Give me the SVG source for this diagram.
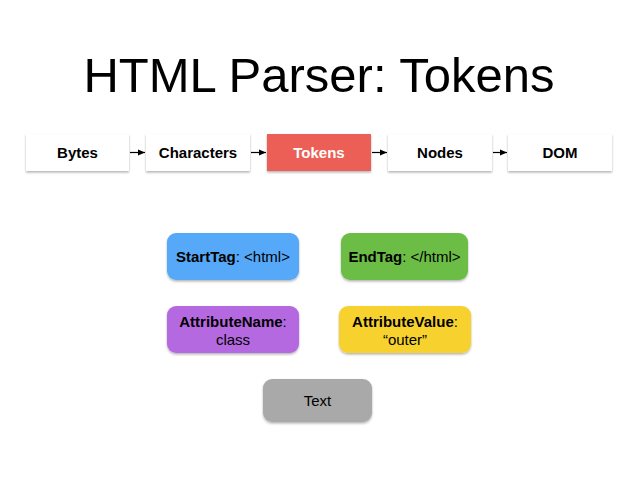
<svg xmlns="http://www.w3.org/2000/svg" width="638" height="479" viewBox="0 0 638 479">
<defs>
<filter id="sh" x="-10%" y="-10%" width="120%" height="140%">
<feDropShadow dx="0" dy="1.5" stdDeviation="1" flood-color="#000" flood-opacity="0.3"/>
</filter>
<marker id="ah" markerWidth="8" markerHeight="8" refX="7" refY="4" orient="auto" markerUnits="userSpaceOnUse">
<path d="M0,1 L7,4 L0,7 Z" fill="#000"/>
</marker>
<style>
text{font-family:"Liberation Sans",Arial,sans-serif}
.stage{fill:#fff;filter:url(#sh)}
.lbl{font-size:15px;font-weight:bold;text-anchor:middle;fill:#000}
.tok{filter:url(#sh)}
.tt{font-size:15px;text-anchor:middle;fill:#000}
.conn{stroke:#000;stroke-width:1.2;fill:none;marker-end:url(#ah)}
</style>
</defs>
<rect width="638" height="479" fill="#fff"/>
<text x="319" y="92" font-size="49" text-anchor="middle" fill="#000" style="font-weight:300">HTML Parser: Tokens</text>
<g id="bytes"><rect class="stage" x="26" y="134" width="103" height="37"/><text class="lbl" x="77.5" y="158">Bytes</text></g>
<g id="characters"><rect class="stage" x="146" y="134" width="104" height="37"/><text class="lbl" x="198" y="158">Characters</text></g>
<g id="tokens"><rect class="stage" x="267" y="134" width="104" height="37" style="fill:#ec5e57"/><text class="lbl" x="319" y="158" style="fill:#fff">Tokens</text></g>
<g id="nodes"><rect class="stage" x="388" y="134" width="104" height="37"/><text class="lbl" x="440" y="158">Nodes</text></g>
<g id="dom"><rect class="stage" x="508" y="134" width="104" height="37"/><text class="lbl" x="560" y="158">DOM</text></g>
<g id="connectors">
<line class="conn" x1="130" y1="152.5" x2="145" y2="152.5"/>
<line class="conn" x1="251" y1="152.5" x2="266" y2="152.5"/>
<line class="conn" x1="372" y1="152.5" x2="387" y2="152.5"/>
<line class="conn" x1="493" y1="152.5" x2="507" y2="152.5"/>
</g>
<g id="starttag"><rect class="tok" x="167" y="233" width="132" height="47" rx="9" fill="#56a9f8"/><text class="tt" x="233" y="262"><tspan font-weight="bold">StartTag</tspan>: &lt;html&gt;</text></g>
<g id="endtag"><rect class="tok" x="341" y="233" width="127" height="47" rx="9" fill="#6cbd45"/><text class="tt" x="404.5" y="262"><tspan font-weight="bold">EndTag</tspan>: &lt;/html&gt;</text></g>
<g id="attrname"><rect class="tok" x="167" y="306" width="132" height="47" rx="9" fill="#b569e1"/><text class="tt" x="233" y="327"><tspan font-weight="bold">AttributeName</tspan>:</text><text class="tt" x="233" y="345">class</text></g>
<g id="attrvalue"><rect class="tok" x="339" y="306" width="132" height="47" rx="9" fill="#f7d22e"/><text class="tt" x="405" y="327"><tspan font-weight="bold">AttributeValue</tspan>:</text><text class="tt" x="405" y="345">“outer”</text></g>
<g id="text"><rect class="tok" x="263" y="379" width="109" height="43" rx="9" fill="#a9a9a9"/><text class="tt" x="317.5" y="406" fill="#333">Text</text></g>
</svg>
